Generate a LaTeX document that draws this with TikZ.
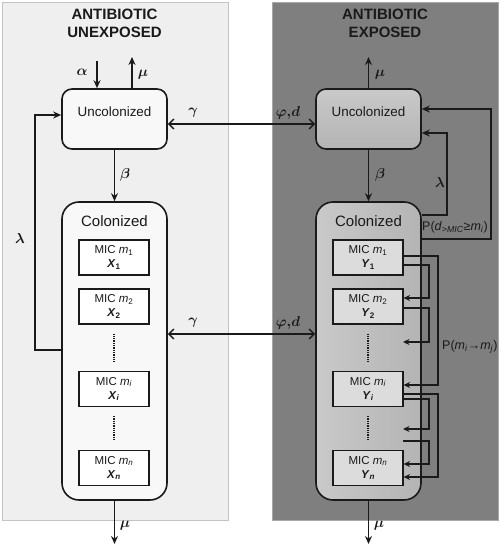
\documentclass[tikz,border=0pt]{standalone}
\usepackage{amsmath}
\usepackage{fontspec}
\setmainfont{Liberation Sans}
\usetikzlibrary{arrows.meta,calc}
\definecolor{panelL}{HTML}{EFEFEF}
\definecolor{panelLb}{HTML}{C4C4C4}
\definecolor{panelR}{HTML}{7F7F7F}
\definecolor{panelRb}{HTML}{A8A8A8}
\definecolor{boxL}{HTML}{F8F8F8}
\definecolor{boxRa}{HTML}{C9C9C9}
\definecolor{boxRb}{HTML}{B4B4B4}
\definecolor{micR}{HTML}{DCDCDC}
\definecolor{ink}{HTML}{1A1A1A}
\begin{document}
\begin{tikzpicture}[x=1pt,y=-1pt,
  arr/.style={line width=1.7pt,draw=ink,-{Stealth[length=8pt,width=7pt]}},
  tarr/.style={line width=1.2pt,draw=ink,-{Stealth[length=6.5pt,width=6pt]}},
  barb/.style={line width=1.4pt,draw=ink,{Straight Barb[length=5pt,width=10pt]}-{Straight Barb[length=5pt,width=10pt]}},
  lbl/.style={font=\fontsize{14}{14}\selectfont, inner sep=0pt, text=ink},
  ttl/.style={font=\bfseries\fontsize{15}{18}\selectfont, align=center, text=ink, inner sep=0pt},
  ubox/.style={draw=ink, line width=1.6pt, rounded corners=10pt, minimum width=105pt, minimum height=60pt, inner sep=0pt},
  cbox/.style={draw=ink, line width=1.6pt, rounded corners=17pt, minimum width=105pt, minimum height=298pt, inner sep=0pt},
  mic/.style={draw=ink, line width=1.1pt, minimum width=70pt, minimum height=35pt, inner sep=0pt, align=center, font=\fontsize{11.5}{14}\selectfont, text=ink},
  boxtxt/.style={font=\fontsize{13.4}{16}\selectfont, inner sep=0pt, text=ink},
  coltxt/.style={font=\fontsize{15}{18}\selectfont, inner sep=0pt, text=ink},
  dots/.style={line width=1.3pt, draw=ink, densely dotted},
]
\useasboundingbox (0,0) rectangle (500,545);
% panels
\node[draw=panelLb, fill=panelL, line width=0.8pt, minimum width=226pt, minimum height=518pt, inner sep=0pt, anchor=north west] (pL) at (2,2) {};
\node[draw=panelRb, fill=panelR, line width=0.8pt, minimum width=226pt, minimum height=518pt, inner sep=0pt, anchor=north west] (pR) at (272,2) {};
\node[ttl] (tL) at (114.5,23) {ANTIBIOTIC\\UNEXPOSED};
\node[ttl] (tR) at (385,23) {ANTIBIOTIC\\EXPOSED};
% left boxes
\node[ubox, fill=boxL] (uL) at (114.5,119) {};
\node[boxtxt] (uLt) at (114.5,112) {Uncolonized};
\node[cbox, fill=boxL] (cL) at (114.5,351) {};
\node[coltxt] (cLt) at (114.5,221) {Colonized};
\node[mic, fill=white] (m1L) at (114,257.5) {MIC \textit{m}\textsubscript{1}\\\textbf{\textit{X}}\textsubscript{\textbf{1}}};
\node[mic, fill=white] (m2L) at (114,306.5) {MIC \textit{m}\textsubscript{2}\\\textbf{\textit{X}}\textsubscript{\textbf{2}}};
\node[mic, fill=white] (miL) at (114,389) {MIC \textit{m}\textsubscript{\textit{i}}\\\textbf{\textit{X}}\textsubscript{\textbf{\textit{i}}}};
\node[mic, fill=white] (mnL) at (114,468) {MIC \textit{m}\textsubscript{\textit{n}}\\\textbf{\textit{X}}\textsubscript{\textbf{\textit{n}}}};
\draw[dots] ($(m2L.south)+(0,9)$) -- ($(miL.north)+(0,-9)$);
\draw[dots] ($(miL.south)+(0,9)$) -- ($(mnL.north)+(0,-9)$);
% right boxes
\node[ubox, shade, top color=boxRa, bottom color=boxRb] (uR) at (368.5,119) {};
\node[boxtxt] (uRt) at (368.5,112) {Uncolonized};
\node[cbox, shade, left color=boxRa, right color=boxRb] (cR) at (368.5,351) {};
\node[coltxt] (cRt) at (368.5,221) {Colonized};
\node[mic, fill=micR] (m1R) at (368,257.5) {MIC \textit{m}\textsubscript{1}\\\textbf{\textit{Y}}\textsubscript{\textbf{1}}};
\node[mic, fill=micR] (m2R) at (368,306.5) {MIC \textit{m}\textsubscript{2}\\\textbf{\textit{Y}}\textsubscript{\textbf{2}}};
\node[mic, fill=micR] (miR) at (368,389) {MIC \textit{m}\textsubscript{\textit{i}}\\\textbf{\textit{Y}}\textsubscript{\textbf{\textit{i}}}};
\node[mic, fill=micR] (mnR) at (368,468) {MIC \textit{m}\textsubscript{\textit{n}}\\\textbf{\textit{Y}}\textsubscript{\textbf{\textit{n}}}};
\draw[dots] ($(m2R.south)+(0,9)$) -- ($(miR.north)+(0,-9)$);
\draw[dots] ($(miR.south)+(0,9)$) -- ($(mnR.north)+(0,-9)$);
% left arrows
\coordinate (aS) at (97,61);
\draw[arr] (aS) -- (aS |- uL.north);
\coordinate (muLt) at (132,57);
\draw[arr] (muLt |- uL.north) -- (muLt);
\draw[arr] (uL.south) -- (cL.north);
\coordinate (muLb) at (114.5,544);
\draw[arr] (cL.south) -- (muLb);
\draw[arr] (cL.west |- 0,350) -| (35,115) -- (uL.west |- 0,115);
% right arrows
\coordinate (muRt) at (368.5,57);
\draw[arr] (uR.north) -- (muRt);
\draw[arr] (uR.south) -- (cR.north);
\coordinate (muRb) at (368.5,544);
\draw[arr] (cR.south) -- (muRb);
\draw[arr] (cR.east |- 0,239) -| (491,109) -- (uR.east |- 0,109);
\draw[arr] (cR.east |- 0,215) -| (447,133) -- (uR.east |- 0,133);
% crossing arrows
\draw[barb] (uL.east |- 0,124) -- (uR.west |- 0,124);
\draw[barb] (cL.east |- 0,334) -- (cR.west |- 0,334);
% MIC transitions
\coordinate (f1) at (403,342);
\coordinate (f2) at (403,429);
\coordinate (f3) at (403,441);
\draw[tarr] (m1R.east |- 0,256) -| (438,385) -- (miR.east |- 0,385);
\draw[tarr] (m1R.east |- 0,265) -| (429,298) -- (m2R.east |- 0,298);
\draw[tarr] (m2R.east |- 0,308) -| (429,342) -- (f1);
\draw[tarr] (miR.east |- 0,394) -| (438,477) -- (mnR.east |- 0,477);
\draw[tarr] (miR.east |- 0,399) -| (429,429) -- (f2);
\draw[tarr] (f3) -| (429,464) -- (mnR.east |- 0,464);
% labels
\node[lbl] (la) at (82,72) {$\boldsymbol{\alpha}$};
\node[lbl] (lmu1) at (143,75) {$\boldsymbol{\mu}$};
\node[lbl] (lb1) at (125,175) {$\boldsymbol{\beta}$};
\node[lbl] (lg1) at (193,113) {$\boldsymbol{\gamma}$};
\node[lbl] (lg2) at (193,323) {$\boldsymbol{\gamma}$};
\node[lbl] (lp1) at (288,113) {$\boldsymbol{\varphi{,}d}$};
\node[lbl] (lp2) at (288,323) {$\boldsymbol{\varphi{,}d}$};
\node[lbl] (ll1) at (20,238) {$\boldsymbol{\lambda}$};
\node[lbl] (lmu2) at (125,526) {$\boldsymbol{\mu}$};
\node[lbl] (lmu3) at (380,75) {$\boldsymbol{\mu}$};
\node[lbl] (lb2) at (380,175) {$\boldsymbol{\beta}$};
\node[lbl] (ll2) at (440,183) {$\boldsymbol{\lambda}$};
\node[lbl] (lmu4) at (379,526) {$\boldsymbol{\mu}$};
\node[lbl, anchor=west, font=\fontsize{12.5}{14}\selectfont] (lpd) at (422,227) {P(\textit{d}\textsubscript{\textit{>MIC}}≥\textit{m}\textsubscript{\textit{i}})};
\node[lbl, anchor=west, font=\fontsize{12.5}{14}\selectfont] (lpm) at (442,347) {P(\textit{m}\textsubscript{\textit{i}}→\textit{m}\textsubscript{\textit{j}})};
\end{tikzpicture}
\end{document}
